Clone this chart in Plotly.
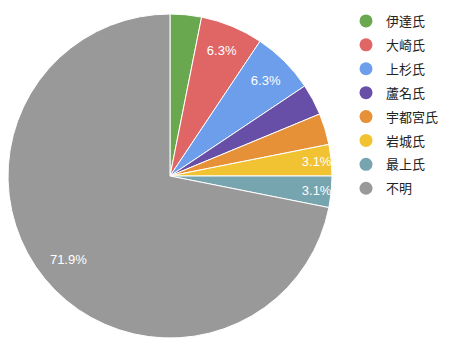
import plotly.graph_objects as go

labels = ["伊達氏", "大崎氏", "上杉氏", "蘆名氏", "宇都宮氏", "岩城氏", "最上氏", "不明"]
values = [1, 2, 2, 1, 1, 1, 1, 23]
colors = ["#6aa84f", "#e06666", "#6d9eeb", "#674ea7", "#e69138", "#f1c232", "#76a5af", "#999999"]
show_label = [False, True, True, False, False, True, True, True]

FONT = "Arial, 'Liberation Sans', 'Noto Sans CJK JP', sans-serif"
DOMAIN = dict(x=[8/451, 332/451], y=[1-338/351, 1-14/351])

texttemplate = ["%{percent:.1%}" if s else "" for s in show_label]

fig = go.Figure()
# coloured slices
fig.add_trace(go.Pie(
    labels=labels, values=values, sort=False, direction="clockwise", rotation=0,
    marker=dict(colors=colors, line=dict(color="white", width=1)),
    textinfo="none", showlegend=False, hoverinfo="label+percent",
    domain=DOMAIN,
))
# transparent ring carrying the percentage labels at ~0.8 of the radius
fig.add_trace(go.Pie(
    labels=labels, values=values, sort=False, direction="clockwise", rotation=0,
    hole=0.62,
    marker=dict(colors=["rgba(0,0,0,0)"] * len(labels), line=dict(width=0)),
    texttemplate=texttemplate, textposition="inside", insidetextorientation="horizontal",
    textfont=dict(color="white", size=13, family=FONT),
    showlegend=False, hoverinfo="skip",
    domain=DOMAIN,
))
for lab, col in zip(labels, colors):
    fig.add_trace(go.Scatter(x=[None], y=[None], mode="markers", name=lab, legendgroup=lab,
                             marker=dict(symbol="circle", size=13, color=col), showlegend=True))

fig.update_layout(
    width=451, height=351, margin=dict(l=0, r=0, t=0, b=0),
    paper_bgcolor="white", plot_bgcolor="white",
    xaxis=dict(visible=False), yaxis=dict(visible=False),
    font=dict(family=FONT, size=13, color="#222222"),
    uniformtext=dict(minsize=13, mode="show"),
    legend=dict(x=346/451, y=1-6/351, xanchor="left", yanchor="top",
                font=dict(size=13, color="#222222", family=FONT), tracegroupgap=4,
                itemclick=False),
)
fig.write_html("out.html")
